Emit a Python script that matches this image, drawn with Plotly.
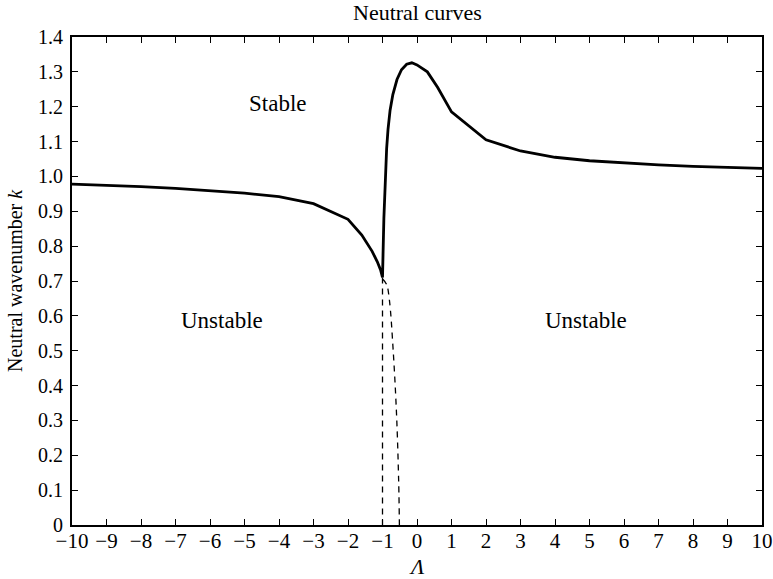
import plotly.graph_objects as go

# Neutral curve k(Λ), solid branch
lam_solid = [-10, -9, -8, -7, -6, -5, -4, -3, -2, -1.6, -1.3, -1.15, -1.05, -1.0,
             -0.96, -0.92, -0.88, -0.84, -0.78, -0.7, -0.58, -0.45, -0.3, -0.15,
             0.0, 0.3, 0.6, 1.0, 2.0, 3.0, 4.0, 5.0, 6.0, 7.0, 8.0, 9.0, 10.0]
k_solid = [0.978, 0.975, 0.971, 0.966, 0.960, 0.952, 0.942, 0.922, 0.877, 0.832,
           0.785, 0.755, 0.730, 0.710,
           0.880, 1.010, 1.080, 1.135, 1.190, 1.235, 1.278, 1.306, 1.322, 1.326,
           1.320, 1.300, 1.255, 1.185, 1.105, 1.073, 1.055, 1.045, 1.038, 1.033,
           1.029, 1.026, 1.023]

# Dashed branches below the cusp
lam_dash_a = [-1.0, -1.0]
k_dash_a = [0.710, 0.0]
lam_dash_b = [-0.99, -0.88, -0.8, -0.69, -0.59, -0.53, -0.51]
k_dash_b = [0.705, 0.690, 0.645, 0.500, 0.310, 0.120, 0.0]

x_ticks = list(range(-10, 11))
x_ticktext = [str(v).replace("-", "\u2212") for v in x_ticks]
y_ticks = [round(0.1 * i, 1) for i in range(15)]
y_ticktext = ["0"] + [f"{v:.1f}" for v in y_ticks[1:]]

region_labels = [("Stable", -4.04, 1.209), ("Unstable", -5.65, 0.586), ("Unstable", 4.9, 0.586)]

font_family = "Liberation Serif, Times New Roman, serif"

fig = go.Figure()
fig.add_trace(go.Scatter(x=lam_dash_a, y=k_dash_a, mode="lines",
                         line=dict(color="black", width=1.3, dash="6px,5px"),
                         showlegend=False, hoverinfo="skip"))
fig.add_trace(go.Scatter(x=lam_dash_b, y=k_dash_b, mode="lines",
                         line=dict(color="black", width=1.3, dash="6px,5px", shape="spline"),
                         showlegend=False, hoverinfo="skip"))
fig.add_trace(go.Scatter(x=lam_solid, y=k_solid, mode="lines",
                         line=dict(color="black", width=2.8),
                         showlegend=False, hoverinfo="skip"))

for text, x, y in region_labels:
    fig.add_annotation(x=x, y=y, text=text, showarrow=False,
                       font=dict(family=font_family, size=23, color="black"))

# Title, axis titles
fig.add_annotation(xref="paper", yref="paper", x=0.5, y=1.0 + 24 / 488,
                   xanchor="center", yanchor="middle", showarrow=False,
                   text="Neutral curves",
                   font=dict(family=font_family, size=22, color="black"))
fig.add_annotation(xref="paper", yref="paper", x=0.5, y=-27 / 488,
                   xanchor="center", yanchor="top", showarrow=False,
                   text="<i>\u039b</i>",
                   font=dict(family=font_family, size=22, color="black"))
fig.add_annotation(xref="paper", yref="paper", x=-57 / 690, y=0.5,
                   xanchor="center", yanchor="middle", showarrow=False,
                   textangle=-90, text="Neutral wavenumber <i>k</i>",
                   font=dict(family=font_family, size=20, color="black"))

fig.update_layout(
    width=773, height=579,
    margin=dict(l=72, r=11, t=37, b=54),
    paper_bgcolor="white", plot_bgcolor="white",
    font=dict(family=font_family, size=21, color="black"),
)
fig.update_xaxes(range=[-10, 10], tickvals=x_ticks, ticktext=x_ticktext,
                 ticks="inside", ticklen=6, tickwidth=1, tickcolor="black",
                 showline=True, linecolor="black", linewidth=2, mirror="ticks",
                 showgrid=False, zeroline=False, automargin=False,
                 ticklabelstandoff=-4)
fig.update_yaxes(range=[0, 1.4], tickvals=y_ticks, ticktext=y_ticktext,
                 ticks="inside", ticklen=6, tickwidth=1, tickcolor="black",
                 showline=True, linecolor="black", linewidth=2, mirror="ticks",
                 showgrid=False, zeroline=False, automargin=False,
                 ticklabelstandoff=3, tickfont=dict(size=20))

fig.write_html("out.html")
